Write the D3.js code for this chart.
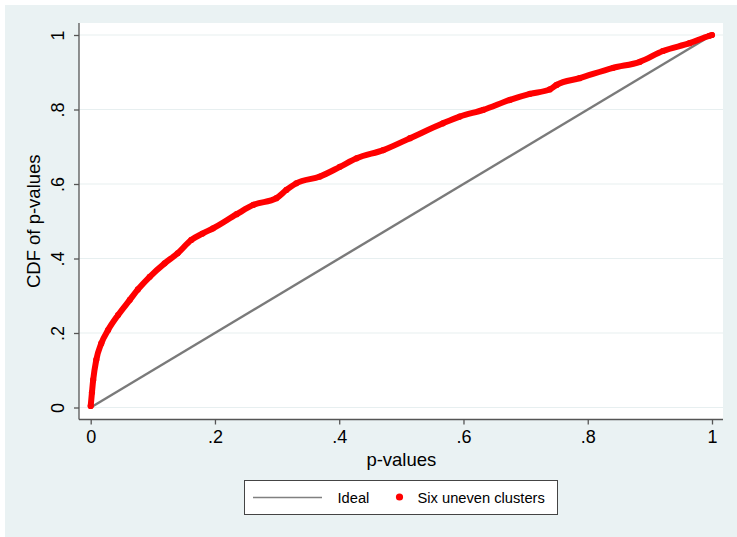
<!DOCTYPE html>
<html>
<head>
<meta charset="utf-8">
<script src="https://cdn.jsdelivr.net/npm/d3@7"></script>
<style>
  html, body { margin: 0; padding: 0; background: #ffffff; }
  svg { display: block; font-family: "Liberation Sans", Arial, sans-serif; }
</style>
</head>
<body>
<svg id="chart" width="737" height="537"></svg>
<script>
// ---- data ----
const pValues = [0, 0.002, 0.004, 0.009, 0.017, 0.028, 0.044, 0.063, 0.076, 0.095, 0.119, 0.140, 0.162,
  0.180, 0.197, 0.235, 0.262, 0.299, 0.315, 0.331, 0.369, 0.401, 0.428, 0.471, 0.514, 0.567, 0.594,
  0.632, 0.675, 0.707, 0.739, 0.750, 0.787, 0.841, 0.884, 0.921, 0.964, 0.996, 1];
const cdfValues = [0.004, 0.04, 0.074, 0.128, 0.172, 0.208, 0.248, 0.289, 0.317, 0.351, 0.387, 0.414, 0.450,
  0.467, 0.481, 0.519, 0.544, 0.562, 0.584, 0.602, 0.620, 0.646, 0.669, 0.691, 0.723, 0.763, 0.781,
  0.799, 0.826, 0.842, 0.854, 0.866, 0.884, 0.912, 0.928, 0.957, 0.978, 0.998, 1];
const idealP = [0, 1];
const tickValues = [0, 0.2, 0.4, 0.6, 0.8, 1];
const tickLabels = ["0", ".2", ".4", ".6", ".8", "1"];
const seriesNames = ["Ideal", "Six uneven clusters"];

const svg = d3.select("#chart");
const W = 737, H = 537;

// outer graph region
svg.append("rect").attr("x", 5).attr("y", 5).attr("width", W - 5).attr("height", H - 5)
  .attr("fill", "#eaf2f3");
// plot region
svg.append("rect").attr("x", 79).attr("y", 23).attr("width", 644).attr("height", 396)
  .attr("fill", "#ffffff");

const x = d3.scaleLinear().domain([0, 1]).range([90.7, 712]);
const y = d3.scaleLinear().domain([0, 1]).range([407.5, 35]);

// gridlines
svg.append("g").selectAll("line").data(tickValues).join("line")
  .attr("x1", 79).attr("x2", 723)
  .attr("y1", d => y(d)).attr("y2", d => y(d))
  .attr("stroke", "#e7eff0").attr("stroke-width", 1.2);

// axes
const yAxis = d3.axisLeft(y).tickValues(tickValues).tickFormat((d, i) => tickLabels[i])
  .tickSize(5).tickSizeOuter(0).tickPadding(0);
const gy = svg.append("g").attr("transform", "translate(79,0)").call(yAxis);
gy.select(".domain").attr("d", `M0,23V419.5`).attr("stroke", "#555").attr("stroke-width", 1.3);
gy.selectAll(".tick line").attr("stroke", "#555").attr("stroke-width", 1.3);
gy.selectAll(".tick text")
  .attr("x", null).attr("dy", null)
  .attr("transform", "translate(-15.5,0) rotate(-90)")
  .attr("text-anchor", "middle")
  .attr("font-size", 18).attr("fill", "#000")
  .attr("font-family", "Liberation Sans, Arial, sans-serif");

const xAxis = d3.axisBottom(x).tickValues(tickValues).tickFormat((d, i) => tickLabels[i])
  .tickSize(5).tickSizeOuter(0).tickPadding(0);
const gx = svg.append("g").attr("transform", "translate(0,419.5)").call(xAxis);
gx.select(".domain").attr("d", `M79,0H723`).attr("stroke", "#555").attr("stroke-width", 1.3);
gx.selectAll(".tick line").attr("stroke", "#555").attr("stroke-width", 1.3);
gx.selectAll(".tick text")
  .attr("y", 23.5).attr("dy", null)
  .attr("font-size", 18).attr("fill", "#000")
  .attr("font-family", "Liberation Sans, Arial, sans-serif");

// axis titles
svg.append("text").attr("x", x(0.5)).attr("y", 466).attr("text-anchor", "middle")
  .attr("font-size", 18.5).text("p-values");
svg.append("text").attr("transform", `translate(39.5,${(y(0) + y(1)) / 2}) rotate(-90)`)
  .attr("text-anchor", "middle").attr("font-size", 18.5).text("CDF of p-values");

// ideal line
svg.append("path").datum(idealP)
  .attr("d", d3.line().x(d => x(d)).y(d => y(d)))
  .attr("stroke", "#7a7a7a").attr("stroke-width", 2.4).attr("fill", "none");

// observed CDF (dense markers)
const pts = pValues.map((p, i) => ({ p, c: cdfValues[i] }));
svg.append("path").datum(pts)
  .attr("d", d3.line().x(d => x(d.p)).y(d => y(d.c)).curve(d3.curveMonotoneX))
  .attr("stroke", "#ff0000").attr("stroke-width", 6).attr("fill", "none")
  .attr("stroke-linecap", "round").attr("stroke-linejoin", "round");
svg.append("g").selectAll("circle").data(pts).join("circle")
  .attr("cx", d => x(d.p)).attr("cy", d => y(d.c)).attr("r", 3.1).attr("fill", "#ff0000");

// legend
const lg = svg.append("g");
lg.append("rect").attr("x", 244.5).attr("y", 480.5).attr("width", 313).attr("height", 34)
  .attr("fill", "#fff").attr("stroke", "#444").attr("stroke-width", 1);
lg.append("line").attr("x1", 253).attr("x2", 322).attr("y1", 497.5).attr("y2", 497.5)
  .attr("stroke", "#808080").attr("stroke-width", 1.6);
lg.append("text").attr("x", 337.5).attr("y", 502.5).attr("font-size", 14.7).text(seriesNames[0]);
lg.append("circle").attr("cx", 399.5).attr("cy", 497).attr("r", 3.6).attr("fill", "#ff0000");
lg.append("text").attr("x", 417.5).attr("y", 502.5).attr("font-size", 14.7).text(seriesNames[1]);
</script>
</body>
</html>
